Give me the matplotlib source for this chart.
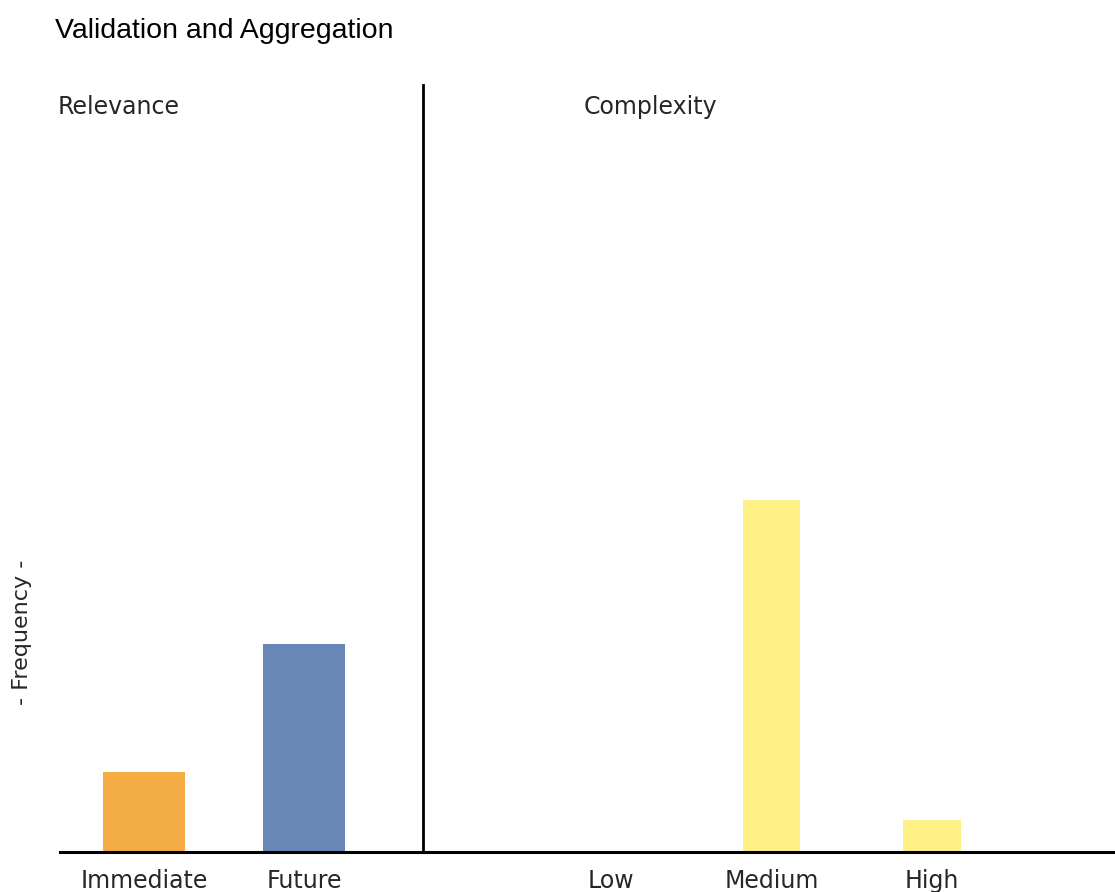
import matplotlib.pyplot as plt

# data
relevance_labels = ['Immediate', 'Future']
relevance_values = [5, 13]
relevance_colors = ['#F4AC45', '#6988B8']

complexity_labels = ['Low', 'Medium', 'High']
complexity_values = [0, 22, 2]
complexity_color = '#FFF085'

plt.rcParams['font.family'] = ['DejaVu Sans']
txt = '#262626'

W, H = 1115, 892
fig = plt.figure(figsize=(W / 100, H / 100), dpi=100)

base = 852
top = 85
ax1 = fig.add_axes([60 / W, (H - base) / H, 363 / W, (base - top) / H])
ax2 = fig.add_axes([423 / W, (H - base) / H, 692 / W, (base - top) / H])
ax2.patch.set_visible(False)

ax1.bar(range(len(relevance_values)), relevance_values, width=0.5125,
        color=relevance_colors)
ax1.set_xlim(-0.525, 1.74375)

ax2.bar(range(len(complexity_values)), complexity_values, width=0.36,
        color=complexity_color)
ax2.set_xlim(-1.171, 3.14)

for ax, labels in [(ax1, relevance_labels), (ax2, complexity_labels)]:
    ax.set_ylim(0, 48)
    ax.set_yticks([])
    ax.set_xticks(range(len(labels)))
    ax.set_xticklabels(labels, fontsize=17, color=txt)
    ax.tick_params(axis='x', length=0, pad=12)
    for s in ['top', 'left', 'right']:
        ax.spines[s].set_visible(False)
    ax.spines['bottom'].set_linewidth(2.2)

ax1.spines['right'].set_visible(True)
ax1.spines['right'].set_linewidth(2.0)

fig.text(58 / W, 1 - 114 / H, 'Relevance', fontsize=17, color=txt,
         ha='left', va='baseline')
fig.text(584 / W, 1 - 114 / H, 'Complexity', fontsize=17, color=txt,
         ha='left', va='baseline')

fig.text(22 / W, 1 - 632 / H, '- Frequency -', fontsize=16, color=txt,
         rotation=90, ha='center', va='center')

fig.text(55 / W, 1 - 38 / H, 'Validation and Aggregation', fontsize=20.5,
         family='Liberation Sans', ha='left', va='baseline', color='black')

fig.savefig('out.png', dpi=100)
